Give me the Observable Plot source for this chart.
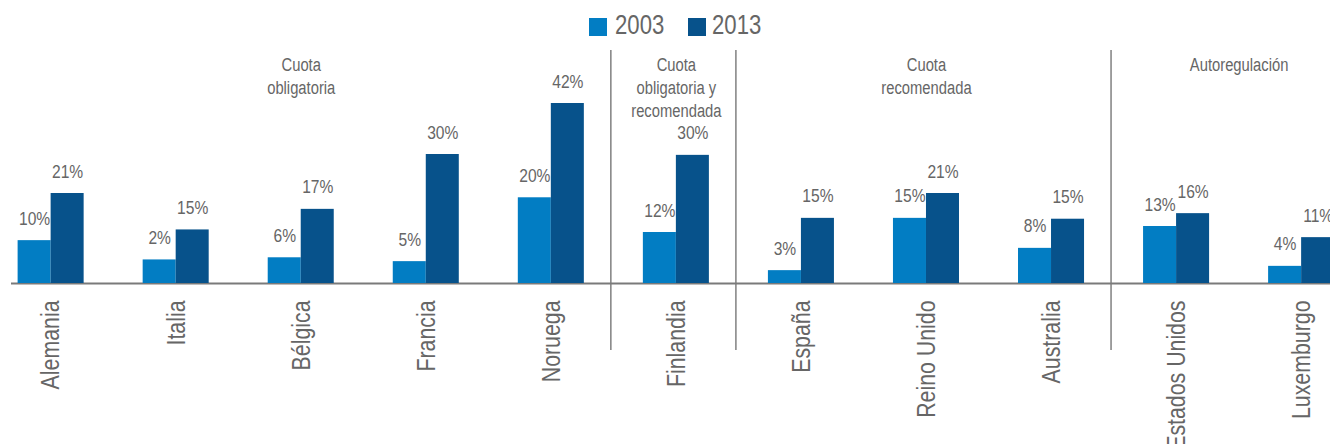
<!DOCTYPE html>
<html>
<head>
<meta charset="utf-8">
<script src="https://cdn.jsdelivr.net/npm/d3@7"></script>
<script src="https://cdn.jsdelivr.net/npm/@observablehq/plot@0.6"></script>
<style>
  html, body { margin: 0; padding: 0; background: #fff; overflow: hidden; }
  #legend { position: relative; height: 44px; width: 1330px;
    font-family: "Liberation Sans", Arial, sans-serif; }
  #legend .sw { position: absolute; top: 18px; width: 17.5px; height: 17.5px; }
  #legend .lb { position: absolute; top: 12px; font-size: 27px; line-height: 27px; color: #666;
    transform: scaleX(0.82); transform-origin: 0 0; }
</style>
</head>
<body>
<div id="legend"></div>
<div id="chart"></div>
<script>
const countries = ["Alemania", "Italia", "Bélgica", "Francia", "Noruega", "Finlandia", "España", "Reino Unido", "Australia", "Estados Unidos", "Luxemburgo"];
const values2003 = [10, 5.5, 6, 5.1, 20, 11.9, 3, 15.2, 8.2, 13.3, 4];
const values2013 = [21, 12.5, 17.3, 30.1, 42, 29.9, 15.2, 21, 15, 16.3, 10.7];
const labels2003 = ["10%", "2%", "6%", "5%", "20%", "12%", "3%", "15%", "8%", "13%", "4%"];
const labels2013 = ["21%", "15%", "17%", "30%", "42%", "30%", "15%", "21%", "15%", "16%", "11%"];
const seriesNames = ["2003", "2013"];
const seriesColors = ["#027dc3", "#07528b"];
const groupNames = ["Cuota\nobligatoria", "Cuota\nobligatoria y\nrecomendada", "Cuota\nrecomendada", "Autoregulación"];
const groupMembers = [
  ["Alemania", "Italia", "Bélgica", "Francia", "Noruega"],
  ["Finlandia"],
  ["España", "Reino Unido", "Australia"],
  ["Estados Unidos", "Luxemburgo"]
];

// legend (HTML, above the SVG)
const legend = document.getElementById("legend");
const legendX = [[589, 615], [688, 712]];
seriesNames.forEach((name, i) => {
  const sw = document.createElement("div");
  sw.className = "sw"; sw.style.left = legendX[i][0] + "px"; sw.style.background = seriesColors[i];
  const lb = document.createElement("div");
  lb.className = "lb"; lb.style.left = legendX[i][1] + "px"; lb.textContent = name;
  legend.appendChild(sw); legend.appendChild(lb);
});

const data2003 = countries.map((c, i) => ({country: c, value: values2003[i], label: labels2003[i]}));
const data2013 = countries.map((c, i) => ({country: c, value: values2013[i], label: labels2013[i]}));

const xRange = [-11.9, 1363.65];
const padInner = 0.472;
const step = (xRange[1] - xRange[0]) / countries.length;
const bandwidth = step * (1 - padInner);
const half = bandwidth / 2;

// group labels: odd-sized groups centre on the middle country, even-sized between two
const groupsOdd = [], groupsEven = [];
groupMembers.forEach((m, i) => {
  const mid = Math.floor((m.length - 1) / 2);
  (m.length % 2 ? groupsOdd : groupsEven).push({country: m[mid], text: groupNames[i]});
});
const separators = groupMembers.slice(0, -1).map(m => m[m.length - 1]);

const font = '"Liberation Sans", Arial, sans-serif';
const grey = "#666";

const plot = Plot.plot({
  width: 1330,
  height: 400,
  marginTop: 6,
  marginBottom: 94,
  marginLeft: 11,
  marginRight: 0,
  style: {fontFamily: font, background: "white"},
  x: {domain: countries, range: xRange, paddingInner: padInner, paddingOuter: padInner / 2, round: false, axis: null},
  y: {domain: [0, 42], range: [239, 59], axis: null},
  marks: [
    Plot.ruleX(separators, {x: d => d, dx: step / 2 - 3, stroke: "#808080", strokeWidth: 1.5}),
    Plot.ruleY([0], {stroke: "#7a7a7a", strokeWidth: 2}),
    Plot.barY(data2003, {x: "country", y: "value", fill: seriesColors[0], insetRight: half}),
    Plot.barY(data2013, {x: "country", y: "value", fill: seriesColors[1], insetLeft: half}),
    Plot.text(data2003, {x: "country", y: "value", text: "label", dx: -half / 2, dy: -16, lineAnchor: "bottom", fontSize: 19, fill: grey}),
    Plot.text(data2013, {x: "country", y: "value", text: "label", dx: half / 2, dy: -16, lineAnchor: "bottom", fontSize: 19, fill: grey}),
    Plot.text(countries, {x: d => d, y: 0, text: d => d, rotate: -90, textAnchor: "end", lineAnchor: "middle", dy: 17, fontSize: 26, fill: grey}),
    Plot.text(groupsOdd, {x: "country", text: "text", frameAnchor: "top", lineAnchor: "top", dy: 4, lineHeight: 1.28, fontSize: 18, fill: grey}),
    Plot.text(groupsEven, {x: "country", text: "text", frameAnchor: "top", lineAnchor: "top", dx: step / 2, dy: 4, lineHeight: 1.28, fontSize: 18, fill: grey})
  ]
});
document.getElementById("chart").appendChild(plot);

// condense all chart text to a narrow face (Arial Narrow proportions)
d3.select(plot).selectAll("text").each(function() {
  const tspans = this.querySelectorAll("tspan");
  const targets = tspans.length ? Array.from(tspans) : [this];
  for (const t of targets) {
    const L = t.getComputedTextLength();
    t.setAttribute("textLength", (L * 0.82).toFixed(2));
    t.setAttribute("lengthAdjust", "spacingAndGlyphs");
  }
});
</script>
</body>
</html>
